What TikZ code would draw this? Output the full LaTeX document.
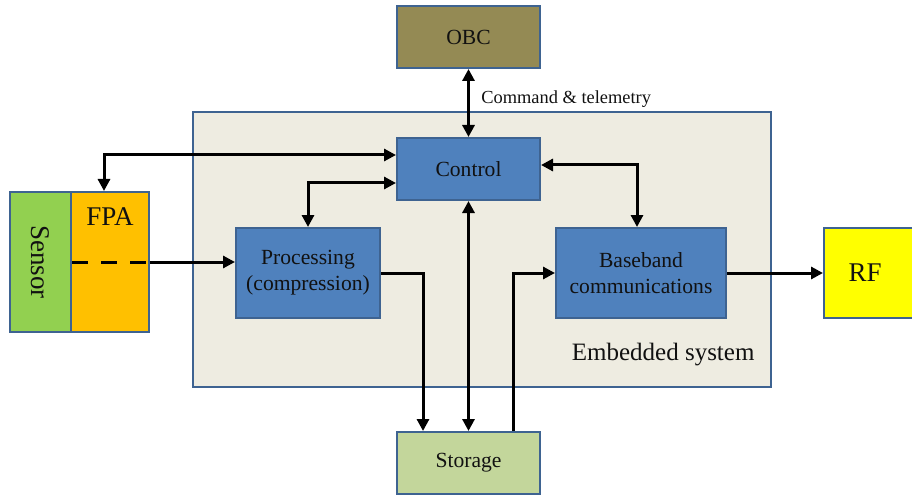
\documentclass[tikz,border=0pt]{standalone}
\usepackage{fontspec}
\setmainfont{Liberation Serif}
\usetikzlibrary{arrows.meta}
\definecolor{bordblue}{HTML}{3E6391}
\definecolor{embfill}{HTML}{EEECE1}
\definecolor{ctrlfill}{HTML}{4F81BD}
\definecolor{obcfill}{HTML}{948A54}
\definecolor{storfill}{HTML}{C3D69B}
\definecolor{sensfill}{HTML}{92D050}
\definecolor{fpafill}{HTML}{FFC000}
\definecolor{rffill}{HTML}{FFFF00}
\definecolor{txt}{HTML}{111111}
\tikzset{
  >={Triangle[length=12pt,width=12pt]},
  blk/.style={draw=bordblue, line width=2pt, inner sep=0pt, align=center, text=txt,
              font=\fontsize{21.6}{26}\selectfont},
  bluebox/.style={blk, fill=ctrlfill},
  arr/.style={line width=3pt, draw=black},
  bigtxt/.style={font=\fontsize{27}{30}\selectfont, text=txt},
}
\begin{document}
\begin{tikzpicture}[x=1pt,y=-1pt]
\useasboundingbox (0,0) rectangle (912,497);
% embedded system
\node[blk, fill=embfill, minimum width=578pt, minimum height=275pt] (emb) at (482,249.5) {};
\node[font=\fontsize{25}{28}\selectfont, text=txt, anchor=east] (emblabel) at (758,355) {Embedded system};
% boxes
\node[blk, fill=obcfill, minimum width=143pt, minimum height=62pt] (obc) at (468.5,37) {OBC};
\node[bluebox, minimum width=143pt, minimum height=62pt] (ctrl) at (468.5,169) {Control};
\node[bluebox, minimum width=144pt, minimum height=90pt] (proc) at (308,273) {Processing\\(compression)};
\node[bluebox, minimum width=170pt, minimum height=90pt] (bb) at (641,273) {Baseband\\communications};
\node[blk, fill=storfill, minimum width=143pt, minimum height=62pt] (stor) at (468.5,463) {Storage};
\node[blk, fill=sensfill, minimum width=61pt, minimum height=140pt] (sens) at (40.5,262) {};
\node[bigtxt, rotate=-90] (senslabel) at (40.5,262) {Sensor};
\node[blk, fill=fpafill, minimum width=78pt, minimum height=140pt] (fpa) at (110,262) {};
\node[bigtxt] (fpalabel) at (110,217) {FPA};
\node[blk, fill=rffill, minimum width=100pt, minimum height=90pt, anchor=west] (rf) at (823,273) {};
\node[bigtxt] (rflabel) at (865,273) {RF};
% connectors
\draw[arr,<->] (obc.south) -- (ctrl.north)
  node[pos=0.45, right=8pt, font=\fontsize{18.4}{20}\selectfont, text=txt] (cmd) {Command \& telemetry};
\draw[arr,<->] ([yshift=14pt]ctrl.west) -| ([xshift=-6pt]fpa.north);
\draw[arr,<->] ([yshift=-14pt]ctrl.west) -| (proc.north);
\draw[arr,<->] ([yshift=4pt]ctrl.east) -| ([xshift=-4pt]bb.north);
\draw[arr,<->] (ctrl.south) -- (stor.north);
\draw[arr,->] (proc.east) -| ([xshift=-45.5pt]stor.north);
\draw[arr,->] ([xshift=44.5pt]stor.north) |- (bb.west);
\draw[arr,->] (bb.east) -- (rf.west);
\draw[line width=3pt, dash pattern=on 16pt off 13pt] (sens.east) -- (fpa.east);
\draw[arr,->] (fpa.east) -- (fpa.east -| proc.west);
\end{tikzpicture}
\end{document}
